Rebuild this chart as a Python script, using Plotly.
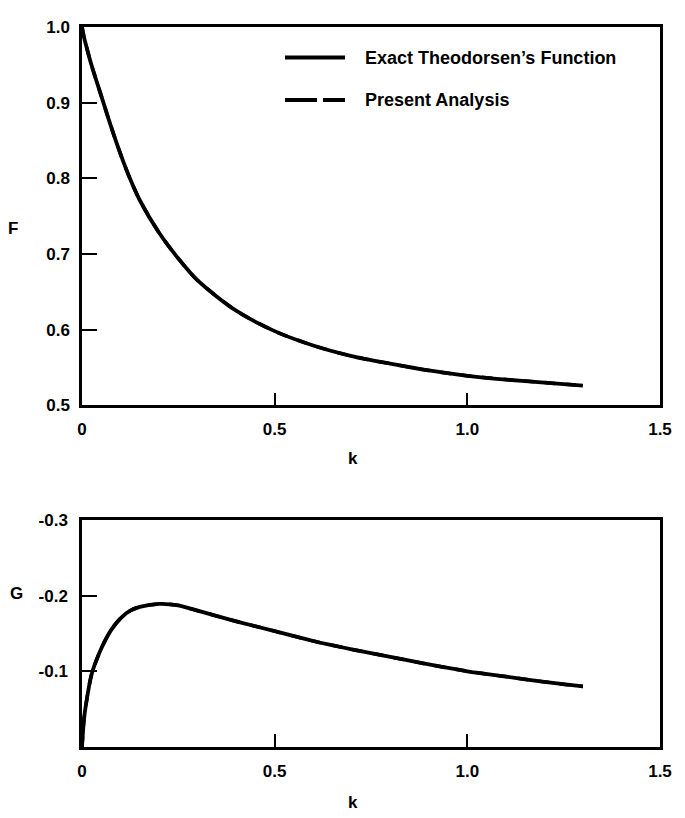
import plotly.graph_objects as go

# Data
k_vals = [0.0, 0.005, 0.01, 0.025, 0.05, 0.075, 0.1, 0.125, 0.15, 0.2, 0.25, 0.3, 0.4, 0.5, 0.6, 0.7, 0.8, 0.9, 1.0, 1.1, 1.2, 1.3]
F_vals = [1.0, 0.987, 0.977, 0.949, 0.909, 0.869, 0.832, 0.799, 0.771, 0.728, 0.694, 0.665, 0.625, 0.598, 0.579, 0.565, 0.555, 0.546, 0.539, 0.534, 0.530, 0.526]
G_vals = [0.0, -0.036, -0.055, -0.096, -0.130, -0.154, -0.170, -0.180, -0.185, -0.189, -0.187, -0.180, -0.166, -0.153, -0.140, -0.129, -0.119, -0.109, -0.100, -0.093, -0.086, -0.080]

x_ticks = [0, 0.5, 1.0, 1.5]
x_tick_text = ["0", "0.5", "1.0", "1.5"]
F_ticks = [0.5, 0.6, 0.7, 0.8, 0.9, 1.0]
F_tick_text = ["0.5", "0.6", "0.7", "0.8", "0.9", "1.0"]
G_ticks = [-0.3, -0.2, -0.1]
G_tick_text = ["-0.3", "-0.2", "-0.1"]

legend_labels = ["Exact Theodorsen\u2019s Function", "Present Analysis"]

# page body has an 8px margin; the figure is sized to fit the 685x818 window
OFF = 8
W, H = 685 - OFF, 818 - OFF
ML, MR, MT, MB = 74, 25, 10, 71
PH = H - MT - MB
PW = W - ML - MR

def py(ypage):
    return (H - MB - (ypage - OFF)) / PH

def px(xpage):
    return (xpage - OFF - ML) / PW

FONT = dict(family="Liberation Sans, Arial, sans-serif", size=17, color="black", weight="bold")
LEG_FONT = dict(family="Liberation Sans, Arial, sans-serif", size=18, color="black", weight="bold")

fig = go.Figure()
line_dash = dict(color="black", width=3.5, dash="dash", shape="spline", smoothing=0.8)
line_solid = dict(color="black", width=3.8, shape="spline", smoothing=0.8)
fig.add_trace(go.Scatter(x=k_vals, y=F_vals, mode="lines", line=line_dash,
                         xaxis="x", yaxis="y", showlegend=False, hoverinfo="skip"))
fig.add_trace(go.Scatter(x=k_vals, y=F_vals, mode="lines", line=line_solid,
                         xaxis="x", yaxis="y", showlegend=False))
fig.add_trace(go.Scatter(x=k_vals, y=G_vals, mode="lines", line=line_dash,
                         xaxis="x2", yaxis="y2", showlegend=False, hoverinfo="skip"))
fig.add_trace(go.Scatter(x=k_vals, y=G_vals, mode="lines", line=line_solid,
                         xaxis="x2", yaxis="y2", showlegend=False))

axis_common = dict(showgrid=False, zeroline=False, showline=True, linecolor="black", linewidth=2.5,
                   mirror=True, ticks="inside", tickcolor="black", tickwidth=2,
                   tickfont=FONT)

fig.update_layout(
    width=W, height=H,
    margin=dict(l=ML, r=MR, t=MT, b=MB),
    paper_bgcolor="white", plot_bgcolor="white",
    font=FONT,
    xaxis=dict(domain=[0, 1], range=[0, 1.5], tickvals=x_ticks, ticktext=x_tick_text, anchor="y",
               ticklen=13, ticklabelstandoff=7, **axis_common),
    yaxis=dict(domain=[py(401), 1], range=[0.5, 1.0], tickvals=F_ticks, ticktext=F_tick_text, anchor="x",
               ticklen=15, ticklabelstandoff=6, **axis_common),
    xaxis2=dict(domain=[0, 1], range=[0, 1.5], tickvals=x_ticks, ticktext=x_tick_text, anchor="y2",
                ticklen=13, ticklabelstandoff=7, **axis_common),
    yaxis2=dict(domain=[0, py(517)], range=[0, -0.3], tickvals=G_ticks, ticktext=G_tick_text, anchor="x2",
                ticklen=15, ticklabelstandoff=8, **axis_common),
)

titles = [("F", 13, 222), ("G", 16, 592), ("k", 353, 455), ("k", 353, 803)]
for t, xp, yp in titles:
    fig.add_annotation(text=t, xref="paper", yref="paper", x=px(xp), y=py(yp), showarrow=False,
                       font=FONT, xanchor="center", yanchor="middle")

# legend (drawn manually)
fig.add_shape(type="line", xref="paper", yref="paper", x0=px(285), x1=px(345), y0=py(49), y1=py(49),
              line=dict(color="black", width=4))
fig.add_shape(type="line", xref="paper", yref="paper", x0=px(285), x1=px(345), y0=py(92), y1=py(92),
              line=dict(color="black", width=4, dash="32px,6px,40px"))
fig.add_annotation(text=legend_labels[0], xref="paper", yref="paper", x=px(363), y=py(49),
                   xanchor="left", yanchor="middle", showarrow=False, font=LEG_FONT)
fig.add_annotation(text=legend_labels[1], xref="paper", yref="paper", x=px(363), y=py(92),
                   xanchor="left", yanchor="middle", showarrow=False, font=LEG_FONT)

fig.write_html("out.html")
